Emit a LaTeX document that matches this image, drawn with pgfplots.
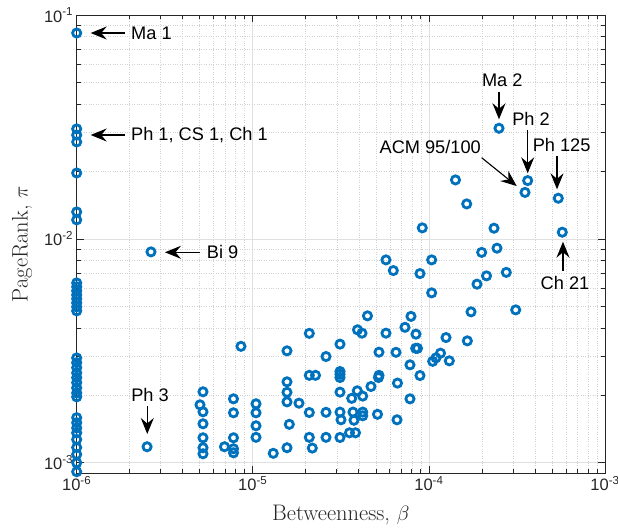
\documentclass[border=0pt]{standalone}
\usepackage{fontspec}
\usepackage{pgfplots}
\pgfplotsset{compat=1.18}
\usetikzlibrary{arrows.meta}
\newfontfamily\arial{Liberation Sans}
\definecolor{mblue}{RGB}{0,114,189}
\definecolor{axgray}{RGB}{38,38,38}

\pgfplotstableread{
x y
1e-6 0.0831
1e-6 0.0310
1e-6 0.0291
1e-6 0.0271
1e-6 0.0197
1e-6 0.0132
1e-6 0.01216
1e-6 0.00636
1e-6 0.00611
1e-6 0.00586
1e-6 0.00562
1e-6 0.00540
1e-6 0.00518
1e-6 0.00497
1e-6 0.00477
1e-6 0.00294
1e-6 0.00280
1e-6 0.00266
1e-6 0.00252
1e-6 0.00240
1e-6 0.00228
1e-6 0.00216
1e-6 0.00205
1e-6 0.00197
1e-6 0.00159
1e-6 0.00151
1e-6 0.00143
1e-6 0.00136
1e-6 0.00127
1e-6 0.00117
1e-6 0.00109
1e-6 0.00100
1e-6 0.000912
}\leftcol

\pgfplotstableread{
x y
2.642e-6 0.00875
2.51e-6 0.001179
5.215e-6 0.002075
5.015e-6 0.001815
5.215e-6 0.001689
5.215e-6 0.001493
5.215e-6 0.001293
5.215e-6 0.001167
5.215e-6 0.001097
7.77e-6 0.00193
7.77e-6 0.001672
7.77e-6 0.001293
7.77e-6 0.001155
7.77e-6 0.001108
6.908e-6 0.001179
8.57e-6 0.003312
1.043e-5 0.001834
1.043e-5 0.001672
1.043e-5 0.001463
1.043e-5 0.001299
1.307e-5 0.001102
1.564e-5 0.003162
1.564e-5 0.002299
1.564e-5 0.002064
1.564e-5 0.001871
1.564e-5 0.001167
1.612e-5 0.001485
1.83e-5 0.001846
2.094e-5 0.003785
2.094e-5 0.002458
2.27e-5 0.002458
2.094e-5 0.001677
2.094e-5 0.001299
2.177e-5 0.001163
2.605e-5 0.002982
2.605e-5 0.00168
2.605e-5 0.001299
3.128e-5 0.003388
3.128e-5 0.002556
3.128e-5 0.002483
3.128e-5 0.002403
3.128e-5 0.002068
3.128e-5 0.001684
3.169e-5 0.001556
3.128e-5 0.001297
3.541e-5 0.001361
3.83e-5 0.001361
3.645e-5 0.00194
3.922e-5 0.002096
4.209e-5 0.001985
3.707e-5 0.001684
3.756e-5 0.001548
4.209e-5 0.001684
4.209e-5 0.001621
3.932e-5 0.003925
4.17e-5 0.003793
4.48e-5 0.004531
4.69e-5 0.002191
5.107e-5 0.001646
5.208e-5 0.00312
5.208e-5 0.002458
5.174e-5 0.002403
5.706e-5 0.008057
5.706e-5 0.003793
6.28e-5 0.00722
6.505e-5 0.003114
6.633e-5 0.002269
6.591e-5 0.001556
7.315e-5 0.004027
7.81e-5 0.002738
7.81e-5 0.00193
7.914e-5 0.004508
8.448e-5 0.003754
8.414e-5 0.003245
8.615e-5 0.003245
8.9e-5 0.002453
8.9e-5 0.007001
9.173e-5 0.0112
1.037e-4 0.008057
1.037e-4 0.005741
1.051e-4 0.002838
1.097e-4 0.002942
1.164e-4 0.003088
1.306e-4 0.002853
1.251e-4 0.003625
1.416e-4 0.01834
1.64e-4 0.01433
1.653e-4 0.003504
1.735e-4 0.004721
1.876e-4 0.006279
1.994e-4 0.008704
2.124e-4 0.006837
2.343e-4 0.01116
2.436e-4 0.009089
2.501e-4 0.0312
2.751e-4 0.007087
3.112e-4 0.004819
3.514e-4 0.01613
3.639e-4 0.01821
5.43e-4 0.01519
5.721e-4 0.01071
}\rest

\begin{document}
\begin{tikzpicture}
\useasboundingbox (-76.7pt,-55pt) rectangle (541.3pt,473pt);
\begin{axis}[
  at={(0,0)}, anchor=south west,
  scale only axis, width=528.3pt, height=458pt,
  xmode=log, ymode=log,
  xmin=1e-6, xmax=1e-3, ymin=9e-4, ymax=1e-1,
  clip=false,
  xtick={1e-6,1e-5,1e-4,1e-3},
  xticklabels={10\textsuperscript{-6},10\textsuperscript{-5},10\textsuperscript{-4},10\textsuperscript{-3}},
  ytick={1e-3,1e-2,1e-1},
  yticklabels={10\textsuperscript{-3},10\textsuperscript{-2},10\textsuperscript{-1}},
  minor xtick={2e-6,3e-6,4e-6,5e-6,6e-6,7e-6,8e-6,9e-6,2e-5,3e-5,4e-5,5e-5,6e-5,7e-5,8e-5,9e-5,2e-4,3e-4,4e-4,5e-4,6e-4,7e-4,8e-4,9e-4},
  minor ytick={9e-4,2e-3,3e-3,4e-3,5e-3,6e-3,7e-3,8e-3,9e-3,2e-2,3e-2,4e-2,5e-2,6e-2,7e-2,8e-2,9e-2},
  tick label style={font=\arial\fontsize{16.5}{19}\selectfont, text=axgray},
  grid=both,
  major grid style={draw=black!12, line width=0.6pt},
  minor grid style={draw=black!18, dotted, line width=0.6pt},
  tick align=inside,
  major tick length=7pt, minor tick length=4pt,
  axis line style={draw=axgray, line width=0.8pt},
  every tick/.style={axgray, line width=0.7pt},
  xlabel={Betweenness, $\beta$},
  ylabel={PageRank, $\pi$},
  label style={font=\fontsize{22.5}{26}\selectfont, text=axgray},
  xlabel style={at={(rel axis cs:0.5,-0.0917)}, anchor=center},
  ylabel style={at={(rel axis cs:-0.1035,0.5)}, anchor=center},
]
\addplot[only marks, mark=o, line width=2.8pt, mark size=4.1pt, mark options={draw=mblue, line width=2.8pt}] table {\leftcol};
\addplot[only marks, mark=o, line width=2.8pt, mark size=4.1pt, mark options={draw=mblue, line width=2.8pt}] table {\rest};

\tikzset{ann/.style={font=\arial\fontsize{18.2}{21}\selectfont, inner sep=0pt},
  arr/.style={-{Stealth[length=16pt,width=13pt,inset=5.5pt]}, line width=1.1pt, black}}
% Ma 1
\draw[arr] (rel axis cs:0.0914,0.9607) -- (rel axis cs:0.0265,0.9607);
\node[ann, anchor=west] at (rel axis cs:0.1028,0.9607) {Ma 1};
% Ph 1, CS 1, Ch 1
\draw[arr] (rel axis cs:0.0914,0.738) -- (rel axis cs:0.0265,0.738);
\node[ann, anchor=west] at (rel axis cs:0.1028,0.738) {Ph 1, CS 1, Ch 1};
% Bi 9
\draw[arr] (rel axis cs:0.2334,0.4819) -- (rel axis cs:0.1671,0.4819);
\node[ann, anchor=west] at (rel axis cs:0.2461,0.4819) {Bi 9};
% Ph 3
\node[ann, anchor=center] at (rel axis cs:0.1388,0.1703) {Ph 3};
\draw[arr] (rel axis cs:0.1336,0.1463) -- (rel axis cs:0.1336,0.0852);
% Ma 2
\node[ann, anchor=center] at (rel axis cs:0.8056,0.8566) {Ma 2};
\draw[arr] (rel axis cs:0.7994,0.8325) -- (rel axis cs:0.7994,0.7723);
% Ph 2
\node[ann, anchor=center] at (rel axis cs:0.8599,0.7723) {Ph 2};
\draw[arr] (rel axis cs:0.8537,0.7489) -- (rel axis cs:0.8537,0.6544);
% ACM 95/100
\node[ann, anchor=east] at (rel axis cs:0.7653,0.7111) {ACM 95/100};
\draw[arr] (rel axis cs:0.7666,0.6884) -- (rel axis cs:0.8329,0.6266);
% Ph 125
\node[ann, anchor=center] at (rel axis cs:0.9180,0.7162) {Ph 125};
\draw[arr] (rel axis cs:0.9092,0.6921) -- (rel axis cs:0.9092,0.6194);
% Ch 21
\node[ann, anchor=center] at (rel axis cs:0.9243,0.4142) {Ch 21};
\draw[arr] (rel axis cs:0.9205,0.4417) -- (rel axis cs:0.9205,0.5050);
\end{axis}
\end{tikzpicture}
\end{document}
